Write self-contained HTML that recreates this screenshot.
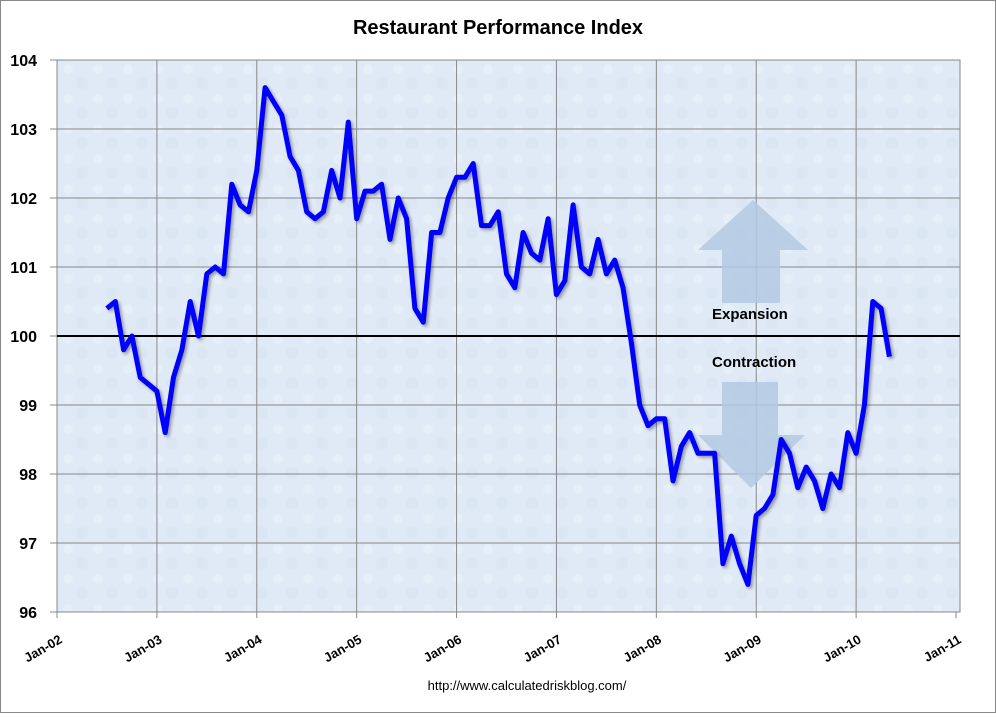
<!DOCTYPE html>
<html><head><meta charset="utf-8"><style>
body{margin:0;background:#fff;font-family:"Liberation Sans",sans-serif}
</style></head><body>
<svg id="c" width="996" height="713" xmlns="http://www.w3.org/2000/svg">
<defs>
<pattern id="tex" width="30" height="30" patternUnits="userSpaceOnUse"><rect width="30" height="30" fill="#e0eaf6"/><circle cx="8" cy="9" r="5" fill="#e6eef8"/><circle cx="22" cy="23" r="6" fill="#dbe6f3"/></pattern>
<filter id="sh"><feDropShadow dx="2" dy="2" stdDeviation="1.5" flood-color="#000" flood-opacity="0.35"/></filter>
</defs>
<rect x="0.5" y="0.5" width="995" height="712" fill="none" stroke="#888"/>
<text x="498" y="34" text-anchor="middle" font-size="20" font-weight="bold">Restaurant Performance Index</text>
<rect x="57" y="60" width="903" height="552" fill="url(#tex)" stroke="#888"/>
<g id="grid"></g>
<g id="arrows">
<polygon points="722,303 780,303 780,250 808,250 753,200 698,250 722,250" fill="#b3c9e3" opacity="0.85"/>
<polygon points="722,382 778,382 778,435 805,435 751,488 698,435 722,435" fill="#b3c9e3" opacity="0.85"/>
</g>
<text x="712" y="319" font-size="15" font-weight="bold">Expansion</text>
<text x="712" y="367" font-size="15" font-weight="bold">Contraction</text>
<g id="marks"></g>
<g id="axes"></g>
<text x="527" y="690" text-anchor="middle" font-size="13">http://www.calculatedriskblog.com/</text>
</svg>
<script>
const startYear = 2002, startMonth = 6; // Jul 2002
const values = [100.4,100.5,99.8,100.0,99.4,99.3,
99.2,98.6,99.4,99.8,100.5,100.0,100.9,101.0,100.9,102.2,101.9,101.8,
102.4,103.6,103.4,103.2,102.6,102.4,101.8,101.7,101.8,102.4,102.0,103.1,
101.7,102.1,102.1,102.2,101.4,102.0,101.7,100.4,100.2,101.5,101.5,102.0,
102.3,102.3,102.5,101.6,101.6,101.8,100.9,100.7,101.5,101.2,101.1,101.7,
100.6,100.8,101.9,101.0,100.9,101.4,100.9,101.1,100.7,99.9,99.0,98.7,
98.8,98.8,97.9,98.4,98.6,98.3,98.3,98.3,96.7,97.1,96.7,96.4,
97.4,97.5,97.7,98.5,98.3,97.8,98.1,97.9,97.5,98.0,97.8,98.6,
98.3,99.0,100.5,100.4,99.7];
const xTicks = ["Jan-02","Jan-03","Jan-04","Jan-05","Jan-06","Jan-07","Jan-08","Jan-09","Jan-10","Jan-11"];
const yTicks = [96,97,98,99,100,101,102,103,104];
const NS="http://www.w3.org/2000/svg";
const x0=57,x1=956,y0=612,y1=60;
const xMonth = m => x0 + m*(x1-x0)/108;
const yv = v => y0 - (v-96)*(y0-y1)/8;
function el(t,a,p){const e=document.createElementNS(NS,t);for(const k in a)e.setAttribute(k,a[k]);document.getElementById(p).appendChild(e);return e;}
yTicks.forEach(v=>{
 if(v>96&&v<104){const l=el('line',{x1:57,x2:960,y1:yv(v),y2:yv(v),stroke:v===100?'#000':'#888','stroke-width':v===100?2:1},v===100?'marks':'grid');
 
 }
 const tk=el('line',{x1:50,x2:57,y1:yv(v),y2:yv(v),stroke:'#888'},'axes');
 
 
 const t=el('text',{x:37,y:yv(v)+6,'text-anchor':'end','font-size':16,'font-weight':'bold'},'axes');t.textContent=v;
 
 
});
xTicks.forEach((s,i)=>{
 const x=xMonth(i*12);
 if(i>0&&i<9){const l=el('line',{x1:x,x2:x,y1:60,y2:612,stroke:'#888','stroke-width':1},'grid');
 
 }
 const tk=el('line',{x1:x,x2:x,y1:612,y2:618,stroke:'#888'},'axes');
 
 
 const t=el('text',{x:x+6,y:642,'text-anchor':'end','font-size':13,'font-weight':'bold',transform:`rotate(-30 ${x+6} 642)`},'axes');t.textContent=s;
 
 
});
const pts=values.map((v,i)=>xMonth(startMonth+i).toFixed(1)+','+yv(v).toFixed(1)).join(' ');
const pl=el('polyline',{points:pts,fill:'none',stroke:'#0000ff','stroke-width':5,'stroke-linejoin':'round',filter:'url(#sh)'},'marks');


</script>
</body></html>
